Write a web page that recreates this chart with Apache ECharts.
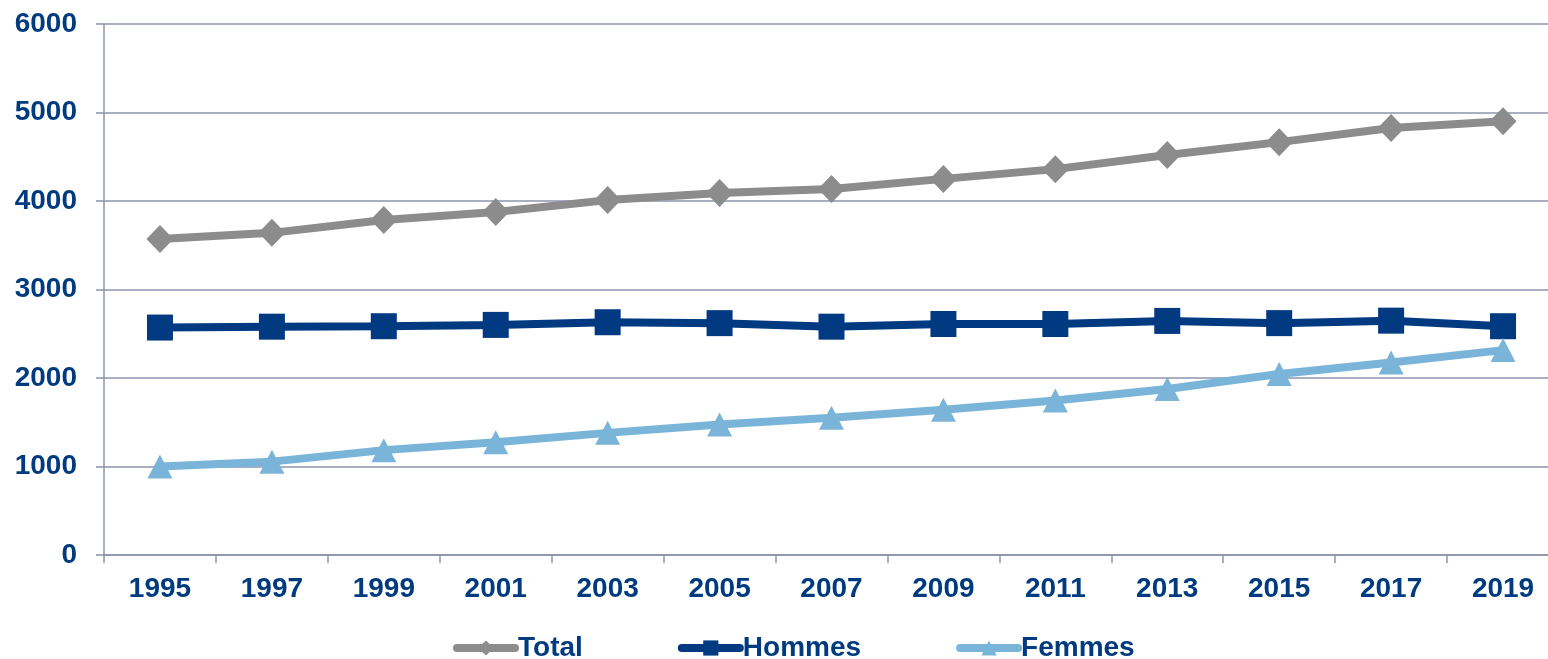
<!DOCTYPE html>
<html>
<head>
<meta charset="utf-8">
<script src="https://cdn.jsdelivr.net/npm/echarts@6/dist/echarts.min.js"></script>
<style>
  html, body { margin: 0; padding: 0; background: #ffffff; }
  #chart { width: 1548px; height: 659px; }
</style>
</head>
<body>
<div id="chart"></div>
<script>
// Années et effectifs (en milliers)
const years = ['1995', '1997', '1999', '2001', '2003', '2005', '2007', '2009', '2011', '2013', '2015', '2017', '2019'];
const total   = [3570, 3640, 3785, 3875, 4010, 4090, 4135, 4250, 4360, 4520, 4665, 4825, 4900];
const hommes  = [2570, 2580, 2585, 2600, 2630, 2620, 2580, 2610, 2610, 2645, 2620, 2648, 2585];
const femmes  = [1000, 1055, 1185, 1275, 1380, 1475, 1550, 1640, 1745, 1875, 2045, 2175, 2315];
const yTicks  = [0, 1000, 2000, 3000, 4000, 5000, 6000];

const NAVY = '#003b80';
const GRID = '#8c93af';
const FONT = '"Liberation Sans", Arial, sans-serif';

const chart = echarts.init(document.getElementById('chart'));
chart.setOption({
  animation: false,
  backgroundColor: '#ffffff',
  // la zone de tracé déborde légèrement à droite du cadre
  grid: { left: 104, top: 24, right: -11, bottom: 104, containLabel: false, outerBoundsMode: 'none' },
  xAxis: {
    type: 'category',
    data: years,
    boundaryGap: true,
    axisLine: { lineStyle: { color: GRID, width: 1.5 } },
    axisTick: { show: true, length: 8, lineStyle: { color: GRID, width: 1.5 } },
    axisLabel: { color: NAVY, fontSize: 28, fontWeight: 'bold', fontFamily: FONT, margin: 20 }
  },
  yAxis: {
    type: 'value',
    min: yTicks[0],
    max: yTicks[yTicks.length - 1],
    interval: yTicks[1] - yTicks[0],
    axisLine: { show: true, lineStyle: { color: GRID, width: 1.5 } },
    axisTick: { show: true, length: 8, lineStyle: { color: GRID, width: 1.5 } },
    splitLine: { show: true, lineStyle: { color: GRID, width: 1.5 } },
    axisLabel: {
      color: NAVY, fontSize: 28, fontWeight: 'bold', fontFamily: FONT, margin: 27,
      formatter: (v) => String(v)
    }
  },
  legend: {
    left: 453,
    top: 634,
    padding: 0,
    itemGap: 95,
    itemWidth: 58,
    itemHeight: 19,
    lineStyle: { width: 8, cap: 'round' },
    textStyle: { color: NAVY, fontSize: 28, fontWeight: 'bold', fontFamily: FONT, padding: [0, 0, 0, -2] },
    data: ['Total', 'Hommes', 'Femmes']
  },
  series: [
    {
      name: 'Total', type: 'line', data: total,
      symbol: 'diamond', symbolSize: [27, 28],
      lineStyle: { color: '#8c8c8c', width: 8 },
      itemStyle: { color: '#8c8c8c' }
    },
    {
      name: 'Hommes', type: 'line', data: hommes,
      symbol: 'rect', symbolSize: 26,
      lineStyle: { color: '#013a81', width: 8 },
      itemStyle: { color: '#013a81' }
    },
    {
      name: 'Femmes', type: 'line', data: femmes,
      symbol: 'triangle', symbolSize: [25, 24],
      lineStyle: { color: '#7ab5d9', width: 8 },
      itemStyle: { color: '#7ab5d9' }
    }
  ]
});
</script>
</body>
</html>
